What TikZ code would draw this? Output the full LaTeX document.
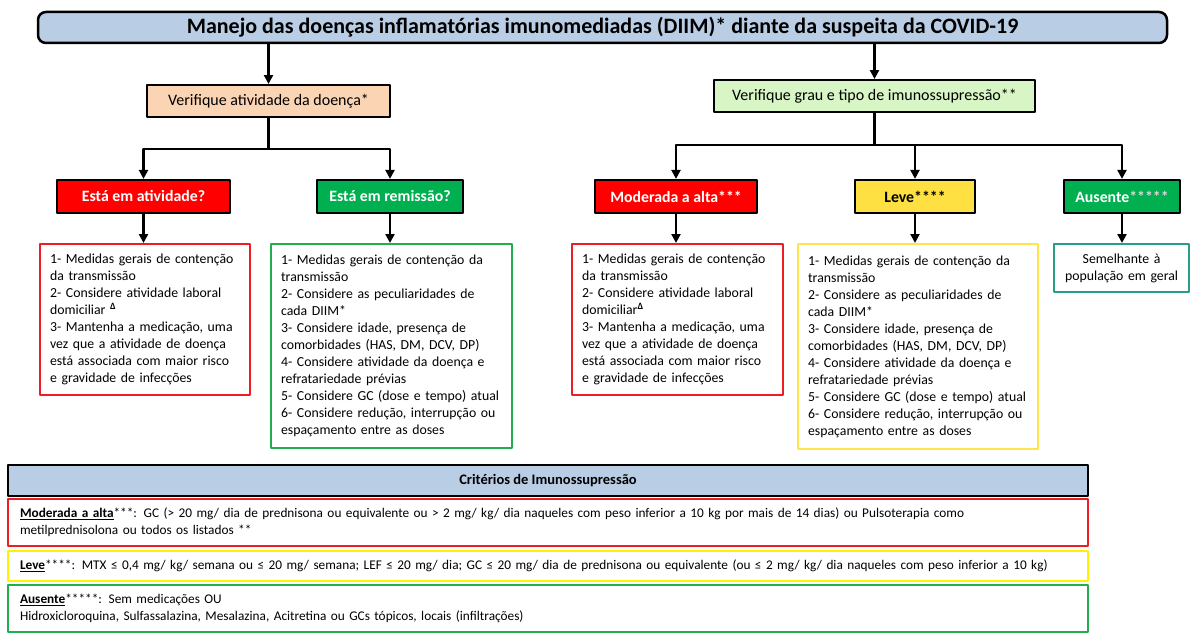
\documentclass[tikz,border=0pt]{standalone}
\usepackage{fontspec}
\setmainfont{Carlito}
\usetikzlibrary{arrows.meta}
\definecolor{azultit}{HTML}{B9CDE5}
\definecolor{pessego}{HTML}{FBD4B4}
\definecolor{verdeclaro}{HTML}{D8F5C6}
\definecolor{vermelho}{HTML}{FF0000}
\definecolor{verde}{HTML}{00B050}
\definecolor{amarelo}{HTML}{FFE043}
\definecolor{linvermelha}{HTML}{EE1C25}
\definecolor{linverde}{HTML}{22AE4C}
\definecolor{linamarela}{HTML}{FFE54A}
\definecolor{linamarela2}{HTML}{FFF200}
\definecolor{linteal}{HTML}{2A9D86}
\begin{document}
\begin{tikzpicture}[x=1pt, y=-1pt, line join=round,
	seta/.style={line width=2.2pt, -{Triangle[length=9pt,width=9pt]}},
	pergunta/.style={draw=black, line width=2pt, inner sep=0pt, minimum height=32pt, font=\fontsize{16}{18}\selectfont},
	rotulo/.style={draw=black, line width=2.2pt, inner sep=0pt, minimum height=33pt, text=white, font=\fontsize{15.8}{18}\selectfont\bfseries},
	lista/.style={line width=2.2pt, inner xsep=10pt, inner ysep=0pt, align=left, anchor=north west, font=\fontsize{13.8}{17}\selectfont},
	criterio/.style={line width=2.2pt, inner xsep=12pt, inner ysep=0pt, align=left, text width=1056pt, minimum height=#1, font=\fontsize{13.3}{17}\selectfont}]
	\useasboundingbox (0,0) rectangle (1190,634);
	%%%%%%%%%%%%%%%%%%%%%%%%%%%%%%%%%
	\node[draw=black, fill=azultit, line width=2.5pt, rounded corners=8pt, minimum width=1129pt, minimum height=31pt, inner sep=0pt,
		font=\fontsize{22}{24}\selectfont\bfseries] (titulo) at (602.5,27.5) {Manejo das doenças inflamatórias imunomediadas (DIIM)* diante da suspeita da COVID-19};
	%%%%%%%%%%%%%%%%%%%%%%%%%%%%%%%%%
	\node[pergunta, fill=pessego, minimum width=243pt] (atividade) at (268.5,101) {Verifique atividade da doença*};
	\node[pergunta, fill=verdeclaro, minimum width=321pt] (imuno) at (874.5,96) {Verifique grau e tipo de imunossupressão**};
	%%%%%%%%%%%%%%%%%%%%%%%%%%%%%%%%%
	\node[rotulo, fill=vermelho, minimum width=173pt] (ematividade) at (143.5,196.5) {Está em atividade?};
	\node[rotulo, fill=verde, minimum width=146pt] (emremissao) at (390,196.5) {Está em remissão?};
	\node[rotulo, fill=vermelho, minimum width=162pt] (moderada) at (676,196.5) {Moderada a alta***};
	\node[rotulo, fill=amarelo, text=black, minimum width=120pt] (leve) at (915,196.5) {Leve****};
	\node[rotulo, fill=verde, minimum width=116pt] (ausente) at (1122,196.5) {Ausente\textcolor{white!85!black}{*****}};
	%%%%%%%%%%%%%%%%%%%%%%%%%%%%%%%%%
	\node[lista, draw=linvermelha, text width=190pt, minimum height=151pt] (txtatividade) at (39,243) {1- Medidas gerais de contenção\\da transmissão\\2- Considere atividade laboral\\domiciliar \textsuperscript{\textbf{Δ}}\\3- Mantenha a medicação, uma\\vez que a atividade de doença\\está associada com maior risco\\e gravidade de infecções};
	\node[lista, draw=linverde, text width=221pt, minimum height=204pt] (txtremissao) at (270,243) {1- Medidas gerais de contenção da\\transmissão\\2- Considere as peculiaridades de\\cada DIIM*\\3- Considere idade, presença de\\comorbidades (HAS, DM, DCV, DP)\\4- Considere atividade da doença e\\refratariedade prévias\\5- Considere GC (dose e tempo) atual\\6- Considere redução, interrupção ou\\espaçamento entre as doses};
	\node[lista, draw=linvermelha, text width=191pt, minimum height=151pt] (txtmoderada) at (571,243) {1- Medidas gerais de contenção\\da transmissão\\2- Considere atividade laboral\\domiciliar\textsuperscript{\textbf{Δ}}\\3- Mantenha a medicação, uma\\vez que a atividade de doença\\está associada com maior risco\\e gravidade de infecções};
	\node[lista, draw=linamarela, text width=220pt, minimum height=205pt] (txtleve) at (797,243) {1- Medidas gerais de contenção da\\transmissão\\2- Considere as peculiaridades de\\cada DIIM*\\3- Considere idade, presença de\\comorbidades (HAS, DM, DCV, DP)\\4- Considere atividade da doença e\\refratariedade prévias\\5- Considere GC (dose e tempo) atual\\6- Considere redução, interrupção ou\\espaçamento entre as doses};
	\node[lista, draw=linteal, align=center, inner xsep=0pt, text width=135pt, minimum height=48pt] (txtausente) at (1053,243) {Semelhante à\\população em geral};
	%%%%%%%%%%%%%%%%%%%%%%%%%%%%%%%%%
	\draw[seta] (atividade |- titulo.south) -- (atividade.north);
	\draw[seta] (imuno |- titulo.south) -- (imuno.north);
	\draw[seta] (atividade.south) -- ++(0,31) -| (ematividade.north);
	\draw[seta] (atividade.south) -- ++(0,31) -| (emremissao.north);
	\draw[seta] (imuno.south) -- ++(0,32) -| (moderada.north);
	\draw[seta] (imuno.south) -- ++(0,32) -| (leve.north);
	\draw[seta] (imuno.south) -- ++(0,32) -| (ausente.north);
	\draw[seta] (ematividade.south) -- (ematividade.south |- txtatividade.north);
	\draw[seta] (emremissao.south) -- (emremissao.south |- txtremissao.north);
	\draw[seta] (moderada.south) -- (moderada.south |- txtmoderada.north);
	\draw[seta] (leve.south) -- (leve.south |- txtleve.north);
	\draw[seta] (ausente.south) -- (ausente.south |- txtausente.north);
	%%%%%%%%%%%%%%%%%%%%%%%%%%%%%%%%%
	\node[draw=black, fill=azultit, line width=2.8pt, minimum width=1080pt, minimum height=31pt, inner sep=0pt,
		font=\fontsize{14.5}{16}\selectfont\bfseries] (criterios) at (548,480.5) {Critérios de Imunossupressão};
	\node[criterio=47pt, draw=linvermelha] (critmoderada) at (548,522.5) {\textbf{\underline{Moderada a alta}}***: GC (> 20 mg/ dia de prednisona ou equivalente ou > 2 mg/ kg/ dia naqueles com peso inferior a 10 kg por mais de 14 dias) ou Pulsoterapia como\\metilprednisolona ou todos os listados **};
	\node[criterio=30pt, draw=linamarela2] (critleve) at (548,566) {\textbf{\underline{Leve}}****: MTX ≤ 0,4 mg/ kg/ semana ou ≤ 20 mg/ semana; LEF ≤ 20 mg/ dia; GC ≤ 20 mg/ dia de prednisona ou equivalente (ou ≤ 2 mg/ kg/ dia naqueles com peso inferior a 10 kg)};
	\node[criterio=47pt, draw=linverde] (critausente) at (548,608.5) {\textbf{\underline{Ausente}}*****: Sem medicações OU\\Hidroxicloroquina, Sulfassalazina, Mesalazina, Acitretina ou GCs tópicos, locais (infiltrações)};
	%%%%%%%%%%%%%%%%%%%%%%%%%%%%%%%%%
\end{tikzpicture}
\end{document}
